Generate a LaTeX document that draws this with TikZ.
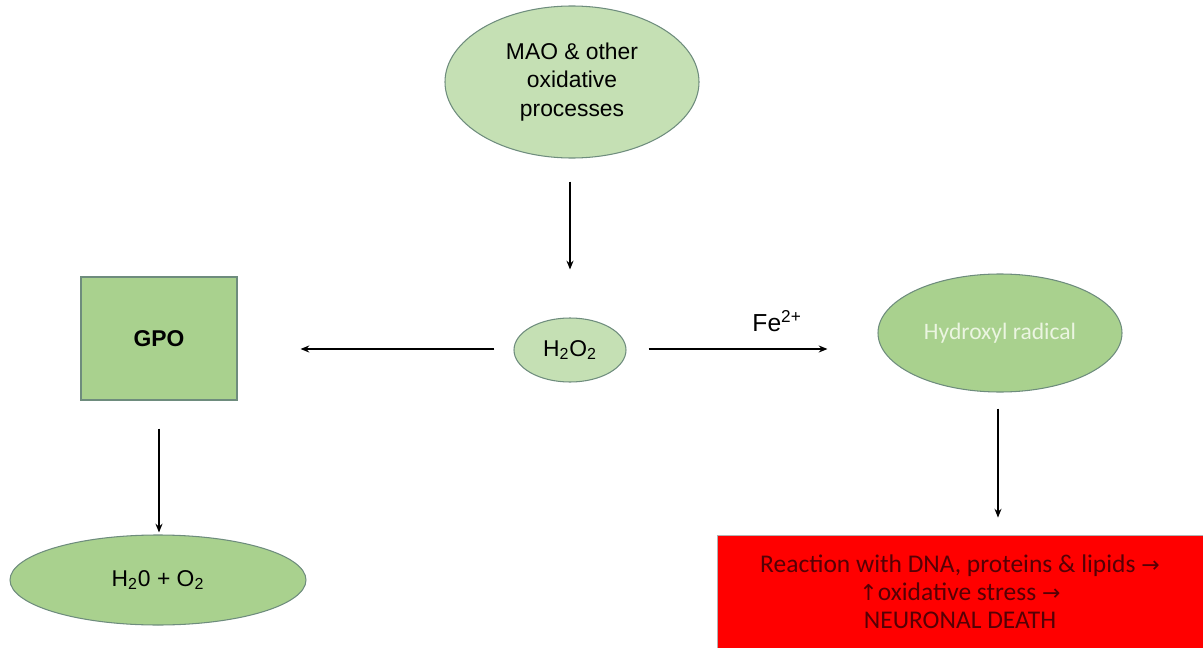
\documentclass[tikz,border=0pt]{standalone}
\usepackage{fontspec}
\setmainfont{Liberation Sans}
\newfontfamily\calib{Carlito}
\newfontfamily\arrfont{DejaVu Sans}
\usetikzlibrary{shapes.geometric,arrows.meta}
\definecolor{lightleaf}{RGB}{197,224,180}
\definecolor{leaf}{RGB}{169,209,142}
\definecolor{leafline}{RGB}{110,140,125}
\definecolor{deathred}{RGB}{255,0,0}
\definecolor{deathtext}{RGB}{85,0,5}
\newcommand{\arr}[1]{{\arrfont\fontsize{12.5}{16}\selectfont#1}}
\tikzset{
  blob/.style={ellipse,draw=leafline,line width=0.6pt,inner sep=0pt,align=center,
    font=\fontsize{13}{16}\selectfont},
  flow/.style={-{Stealth[length=5pt,width=4pt]},line width=0.6pt}
}
\begin{document}
\begin{tikzpicture}
\useasboundingbox (0,0) rectangle (24.06,-12.96);

\node[blob,fill=lightleaf,minimum width=5.08cm,minimum height=3.04cm] (mao) at (11.44,-1.64) {MAO \& other\\oxidative\\processes};
\node[blob,fill=lightleaf,minimum width=2.24cm,minimum height=1.28cm] (hpo) at (11.4,-7.0) {H\textsubscript{2}O\textsubscript{2}};
\node[draw=leafline,fill=leaf,line width=0.6pt,minimum width=3.12cm,minimum height=2.46cm,
  font=\fontsize{13}{16}\selectfont\bfseries] (gpo) at (3.18,-6.77) {GPO};
\node[blob,fill=leaf,minimum width=5.92cm,minimum height=1.8cm] (water) at (3.16,-11.6) {H\textsubscript{2}0 + O\textsubscript{2}};
\node[blob,fill=leaf,minimum width=4.88cm,minimum height=2.36cm,text={rgb,255:red,235;green,245;blue,225},
  font=\fontsize{13.4}{16}\selectfont\calib] (oh) at (20.0,-6.66) {Hydroxyl radical};
\node[draw=gray!60,fill=deathred,line width=0.5pt,minimum width=9.72cm,minimum height=2.26cm,
  align=center,text=deathtext,font=\fontsize{14.5}{16}\selectfont\calib] (death) at (19.2,-11.83)
  {Reaction with DNA, proteins \& lipids \arr{→}\\
   \arr{↑}oxidative stress \arr{→}\\
   NEURONAL DEATH};

\draw[flow,shorten <=0.46cm,shorten >=0.96cm] (hpo.north |- mao.south) -- (hpo.north);
\draw[flow,shorten <=0.38cm,shorten >=1.26cm] ([yshift=0.02cm]hpo.west) -- ([yshift=0.02cm]hpo.west -| gpo.east);
\draw[flow,shorten <=0.44cm,shorten >=1.0cm] ([yshift=0.02cm]hpo.east) -- ([yshift=0.02cm]hpo.east -| oh.west)
  node[pos=0.6,above=6pt,font=\fontsize{14}{16}\selectfont] (fe) {Fe\textsuperscript{2+}};
\draw[flow,shorten <=0.56cm,shorten >=0.04cm] (gpo.south) -- (gpo.south |- water.north);
\draw[flow,shorten <=0.32cm,shorten >=0.34cm] ([xshift=-0.04cm]oh.south) -- ([xshift=-0.04cm]oh.south |- death.north);
\end{tikzpicture}
\end{document}
